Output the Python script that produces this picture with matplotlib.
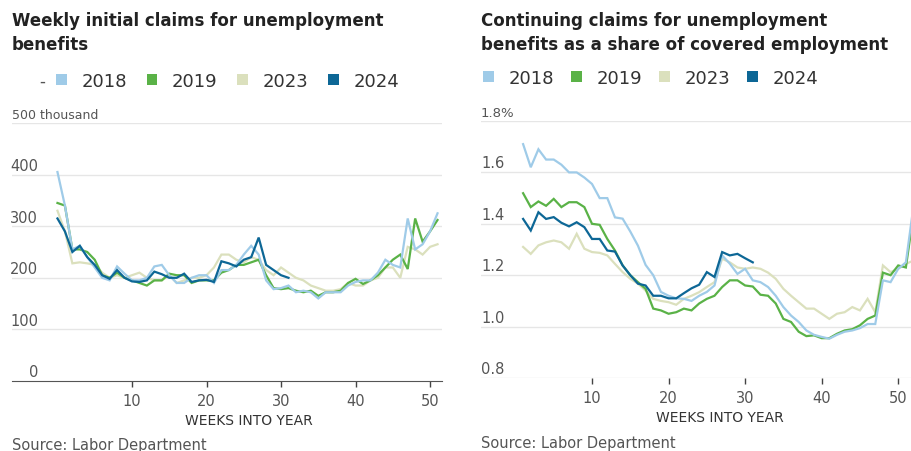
import numpy as np
import matplotlib.pyplot as plt
from matplotlib.patches import Patch

plt.rcParams['font.family'] = ['Liberation Sans Narrow', 'DejaVu Sans']

years = ['2018', '2019', '2023', '2024']
colors = {'2018': '#9fcbe8', '2019': '#5ab247', '2023': '#dbe0bd', '2024': '#0d6796'}

# weekly initial claims, thousands
weeks_init = np.arange(0, 52)
init_2018 = [405, 340, 255, 262, 240, 220, 200, 195, 222, 208, 195, 195, 200, 222, 225, 205, 190, 190, 200, 205,
             205, 190, 215, 215, 225, 245, 262, 245, 195, 178, 180, 185, 172, 175, 172, 160, 172, 172, 172, 185,
             192, 195, 195, 210, 235, 225, 220, 315, 255, 265, 290, 325]
init_2019 = [345, 340, 255, 255, 250, 235, 205, 200, 210, 200, 195, 190, 185, 195, 195, 208, 205, 205, 190, 195,
             195, 195, 210, 215, 225, 225, 230, 235, 205, 180, 178, 180, 175, 172, 175, 165, 172, 172, 175, 190,
             198, 188, 195, 205, 220, 235, 245, 217, 315, 270, 290, 312]
init_2023 = [330, 290, 228, 230, 228, 225, 210, 200, 205, 200, 205, 210, 200, 195, 195, 205, 190, 195, 200, 200,
             205, 220, 245, 245, 235, 230, 240, 235, 215, 205, 220, 210, 200, 195, 185, 180, 175, 175, 178, 190,
             185, 185, 195, 200, 220, 220, 200, 260, 255, 245, 260, 265]
init_2024 = [315, 290, 250, 262, 240, 225, 205, 198, 215, 200, 193, 192, 195, 212, 207, 200, 200, 208, 192, 195,
             196, 192, 232, 228, 222, 235, 240, 278, 225, 215, 205, 200]

# continuing claims, % of covered employment
weeks_cont = np.arange(1, 53)
cont_2018 = [1.71, 1.62, 1.69, 1.65, 1.65, 1.63, 1.60, 1.60, 1.58, 1.555, 1.50, 1.50, 1.425, 1.42, 1.37, 1.315,
             1.24, 1.20, 1.135, 1.12, 1.11, 1.108, 1.10, 1.12, 1.135, 1.16, 1.277, 1.245, 1.205, 1.225, 1.18, 1.173,
             1.154, 1.12, 1.076, 1.043, 1.018, 0.985, 0.968, 0.96, 0.953, 0.968, 0.98, 0.985, 0.994, 1.01, 1.01,
             1.18, 1.173, 1.225, 1.25, 1.47]
cont_2019 = [1.519, 1.465, 1.487, 1.47, 1.497, 1.465, 1.484, 1.484, 1.465, 1.40, 1.396, 1.341, 1.296, 1.238, 1.20,
             1.173, 1.147, 1.07, 1.063, 1.05, 1.056, 1.07, 1.063, 1.09, 1.108, 1.12, 1.154, 1.18, 1.18, 1.16, 1.156,
             1.124, 1.12, 1.09, 1.03, 1.018, 0.98, 0.963, 0.966, 0.955, 0.955, 0.972, 0.985, 0.99, 1.005, 1.03,
             1.043, 1.21, 1.20, 1.238, 1.23, 1.44]
cont_2023 = [1.31, 1.283, 1.316, 1.328, 1.335, 1.328, 1.303, 1.361, 1.303, 1.29, 1.287, 1.277, 1.244, 1.212, 1.186,
             1.167, 1.14, 1.108, 1.10, 1.095, 1.085, 1.108, 1.12, 1.134, 1.154, 1.173, 1.264, 1.25, 1.23, 1.225,
             1.23, 1.225, 1.21, 1.186, 1.147, 1.12, 1.095, 1.07, 1.07, 1.05, 1.03, 1.05, 1.056, 1.076, 1.063, 1.108,
             1.056, 1.238, 1.212, 1.225, 1.244, 1.257]
cont_2024 = [1.419, 1.374, 1.445, 1.419, 1.426, 1.404, 1.39, 1.406, 1.387, 1.341, 1.341, 1.296, 1.292, 1.238, 1.20,
             1.167, 1.16, 1.12, 1.12, 1.11, 1.11, 1.13, 1.149, 1.163, 1.212, 1.193, 1.29, 1.277, 1.283, 1.266, 1.25]

init_data = {'2018': init_2018, '2019': init_2019, '2023': init_2023, '2024': init_2024}
cont_data = {'2018': cont_2018, '2019': cont_2019, '2023': cont_2023, '2024': cont_2024}
draw_order = ['2023', '2019', '2018', '2024']

init_ticks = [0, 100, 200, 300, 400, 500]
init_labels = ['0', '100', '200', '300', '400', '500 thousand']
cont_ticks = [0.8, 1.0, 1.2, 1.4, 1.6, 1.8]
cont_labels = ['0.8', '1.0', '1.2', '1.4', '1.6', '1.8%']
x_ticks = [10, 20, 30, 40, 50]

W, H = 912, 452
fig = plt.figure(figsize=(W / 100, H / 100), dpi=100)

ax1 = fig.add_axes([12 / W, 1 - 382 / H, 430 / W, 258 / H])
ax2 = fig.add_axes([481 / W, 1 - 379 / H, 431 / W, 257 / H])

tick_color = '#555555'
grid_color = '#e6e6e6'

for ax in (ax1, ax2):
    for s in ax.spines.values():
        s.set_visible(False)
    ax.set_yticks([])
    ax.set_xticks(x_ticks)
    ax.tick_params(axis='x', length=4, width=1, color='#444444', labelsize=10.5, labelcolor=tick_color, pad=5)

# left chart
for y in draw_order:
    ax1.plot(weeks_init[:len(init_data[y])], init_data[y], color=colors[y], lw=1.6, solid_joinstyle='miter')
ax1.set_xlim(-6.1, 51.6)
ax1.set_ylim(0, 500)
for t in init_ticks[1:]:
    ax1.axhline(t, color=grid_color, lw=1, zorder=0)
ax1.spines['bottom'].set_visible(True)
ax1.spines['bottom'].set_color('#555555')
for t, lab in zip(init_ticks, init_labels):
    if t == 500:
        ax1.text(0.0, t + 3, lab, transform=ax1.get_yaxis_transform(), ha='left', va='bottom',
                 fontsize=9, color=tick_color)
    else:
        ax1.text(26 / 430, t + 3, lab, transform=ax1.get_yaxis_transform(), ha='right', va='bottom',
                 fontsize=10.5, color=tick_color)
ax1.set_xlabel('WEEKS INTO YEAR', fontsize=10, color='#333333', labelpad=3)
ax1.xaxis.label.set_x(0.551)

# right chart
for y in draw_order:
    ax2.plot(weeks_cont[:len(cont_data[y])], cont_data[y], color=colors[y], lw=1.6, solid_joinstyle='miter')
ax2.set_xlim(-4.5, 51.8)
ax2.set_ylim(0.8, 1.8)
for t in cont_ticks:
    ax2.axhline(t, color=grid_color, lw=1, zorder=0)
for t, lab in zip(cont_ticks, cont_labels):
    ax2.text(0.0, t + 0.008, lab, transform=ax2.get_yaxis_transform(), ha='left', va='bottom',
             fontsize=10.5 if t != 1.8 else 9.5, color=tick_color)
ax2.set_xlabel('WEEKS INTO YEAR', fontsize=10, color='#333333', labelpad=3)
ax2.xaxis.label.set_x(0.555)

# titles
fig.text(12 / W, 1 - 12 / H, 'Weekly initial claims for unemployment\nbenefits', ha='left', va='top',
         fontsize=12, fontweight='bold', color='#222222', linespacing=1.45)
fig.text(481 / W, 1 - 12 / H, 'Continuing claims for unemployment\nbenefits as a share of covered employment',
         ha='left', va='top', fontsize=12, fontweight='bold', color='#222222', linespacing=1.45)

# legends
handles = [Patch(facecolor=colors[y], edgecolor='none') for y in years]
leg_kw = dict(ncol=4, frameon=False, fontsize=13, handlelength=0.6, handleheight=0.6,
              handletextpad=0.8, borderpad=0, borderaxespad=0, labelcolor='#333333')
fig.legend(handles, years, loc='center left', bbox_to_anchor=(56 / W, 1 - 82 / H), columnspacing=1.1, **leg_kw)
fig.legend(handles, years, loc='center left', bbox_to_anchor=(483 / W, 1 - 79 / H), columnspacing=0.95, **leg_kw)
fig.text(42 / W, 1 - 82 / H, '-', ha='center', va='center', fontsize=12, color='#555555')

# sources
fig.text(12 / W, 1 - 446 / H, 'Source: Labor Department', ha='left', va='center', fontsize=10.5, color='#555555')
fig.text(481 / W, 1 - 444 / H, 'Source: Labor Department', ha='left', va='center', fontsize=10.5, color='#555555')

fig.savefig('out.png', dpi=100)
